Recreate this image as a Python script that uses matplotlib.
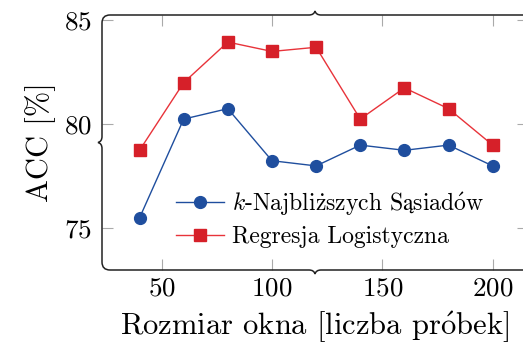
import matplotlib
matplotlib.use('Agg')
import matplotlib.pyplot as plt
from matplotlib.path import Path
from matplotlib.patches import PathPatch

# czcionka w stylu LaTeX (Computer Modern)
plt.rcParams['font.family'] = ['cmr10', 'DejaVu Serif']
plt.rcParams['mathtext.fontset'] = 'cm'
plt.rcParams['axes.formatter.use_mathtext'] = True

# dane
window = [40, 60, 80, 100, 120, 140, 160, 180, 200]
acc_knn = [75.5, 80.25, 80.75, 78.25, 78.0, 79.0, 78.75, 79.0, 78.0]
acc_lr = [78.75, 82.0, 83.95, 83.5, 83.7, 80.25, 81.75, 80.75, 79.0]
xticks = [50, 100, 150, 200]
yticks = [75, 80, 85]

# polskie znaki przez mathtext (cmr10 ich nie ma)
label_knn = r'$k$-Najbli$\dot{\mathrm{z}}$szych S$\mathrm{ą}$siad$\acute{\mathrm{o}}$w'
label_lr = 'Regresja Logistyczna'
xlabel = r'Rozmiar okna [liczba pr$\acute{\mathrm{o}}$bek]'
ylabel = 'ACC [%]'

W, H = 523, 349
fig = plt.figure(figsize=(W / 100, H / 100), dpi=100)

# pozycja osi w pikselach (prawa krawedz wychodzi poza obrazek)
ax_l, ax_r, ax_t, ax_b = 102, 528, 15, 270
ax = fig.add_axes([ax_l / W, 1 - ax_b / H, (ax_r - ax_l) / W, (ax_b - ax_t) / H])

ax.plot(window, acc_knn, color='#1f4e9e', lw=1.0, marker='o', ms=8.5,
        label=label_knn)
ax.plot(window, acc_lr, color='#e8333a', lw=1.0, marker='s', ms=8.5,
        mfc='#d62029', mec='#d62029', label=label_lr)

ax.set_xlim(23, 216)
ax.set_ylim(73.0, 85.25)
ax.set_xticks(xticks)
ax.set_yticks(yticks)
ax.tick_params(direction='in', length=8, width=0.8, color='#aaaaaa',
               top=True, right=True, labelsize=19.5)
ax.tick_params(axis='y', pad=7)
ax.tick_params(axis='x', pad=5)
for s in ax.spines.values():
    s.set_visible(False)

ax.set_xlabel(xlabel, fontsize=22, labelpad=6)
ax.set_ylabel(ylabel, fontsize=22, labelpad=6)

ax.legend(loc='center left', bbox_to_anchor=(0.147, 0.20), frameon=False,
          fontsize=17, handlelength=2.0, handletextpad=0.35, labelspacing=0.35,
          borderpad=0)


# ramka w ksztalcie nawiasow klamrowych (w pikselach obrazka)
def px(x, y):
    return (x / W, 1 - y / H)


r = 8
mx = (ax_l + ax_r) / 2
my = (ax_t + ax_b) / 2
d, h = 6, 4
verts = [
    # gorna krawedz
    px(ax_r + 20, ax_t), px(mx + d, ax_t), px(mx + 1, ax_t), px(mx, ax_t - h),
    px(mx - 1, ax_t), px(mx - d, ax_t),
    px(ax_l + r, ax_t), px(ax_l, ax_t), px(ax_l, ax_t + r),
    # lewa krawedz
    px(ax_l, my - d), px(ax_l, my - 1), px(ax_l - h, my),
    px(ax_l, my + 1), px(ax_l, my + d),
    px(ax_l, ax_b - r), px(ax_l, ax_b), px(ax_l + r, ax_b),
    # dolna krawedz
    px(mx - d, ax_b), px(mx - 1, ax_b), px(mx, ax_b + h),
    px(mx + 1, ax_b), px(mx + d, ax_b),
    px(ax_r + 20, ax_b),
]
codes = [Path.MOVETO, Path.LINETO, Path.CURVE3, Path.CURVE3, Path.CURVE3, Path.CURVE3,
         Path.LINETO, Path.CURVE3, Path.CURVE3,
         Path.LINETO, Path.CURVE3, Path.CURVE3, Path.CURVE3, Path.CURVE3,
         Path.LINETO, Path.CURVE3, Path.CURVE3,
         Path.LINETO, Path.CURVE3, Path.CURVE3, Path.CURVE3, Path.CURVE3,
         Path.LINETO]
fig.patches.append(PathPatch(Path(verts, codes), transform=fig.transFigure,
                             fill=False, lw=1.1, ec='#222222'))

fig.savefig('out.png', dpi=100)
